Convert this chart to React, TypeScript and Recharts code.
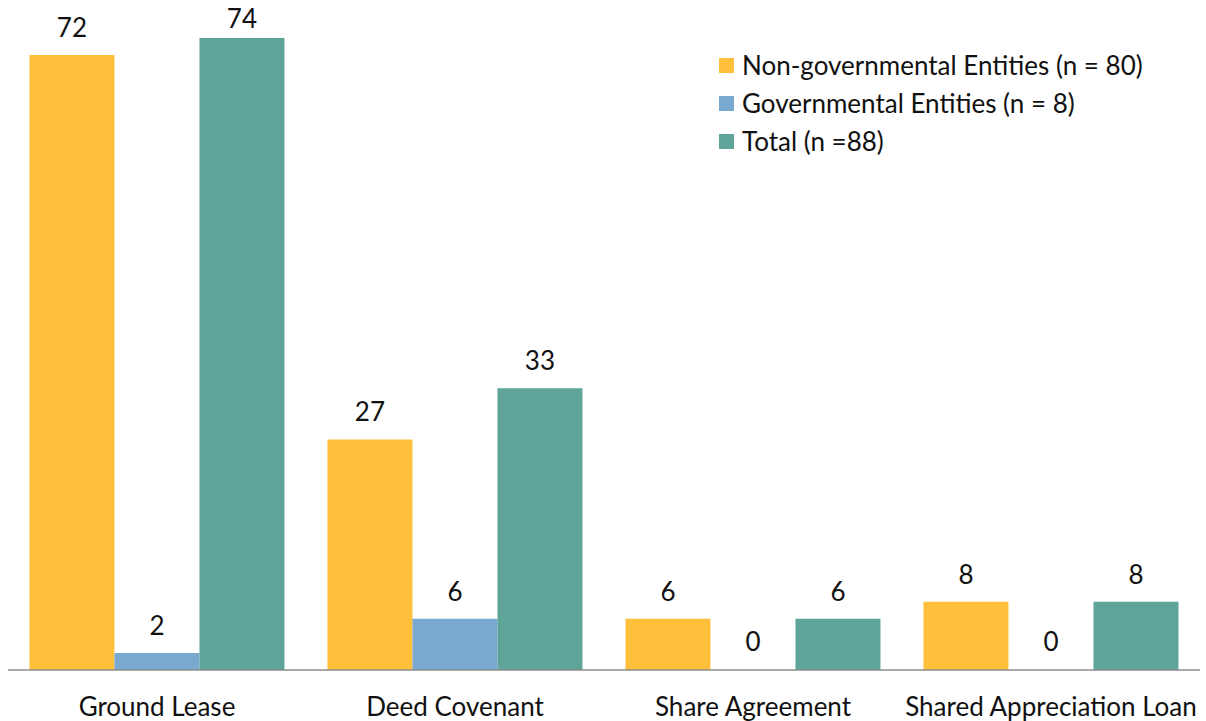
import { Bar, BarChart, Cell, LabelList, XAxis, YAxis } from "recharts";

const categories = ["Ground Lease", "Deed Covenant", "Share Agreement", "Shared Appreciation Loan"];
const nonGov = [72, 27, 6, 8];
const gov = [2, 6, 0, 0];
const total = [74, 33, 6, 8];

const seriesNames = [
  "Non-governmental Entities (n = 80)",
  "Governmental Entities (n = 8)",
  "Total (n =88)",
];
const colors = ["#FEBF3A", "#79A8D0", "#5EA498"];

const data = categories.map((name, i) => ({
  name,
  nonGov: nonGov[i],
  gov: gov[i],
  total: total[i],
}));

const font = "Lato, 'Open Sans', sans-serif";

function LegendBox() {
  return (
    <div
      style={{ position: "absolute", top: 46, left: 719, fontFamily: font, fontSize: 26, color: "#111" }}
    >
      {seriesNames.map((s, i) => (
        <div key={s} style={{ display: "flex", alignItems: "center", height: 38, whiteSpace: "nowrap" }}>
          <span
            style={{ width: 15, height: 15, background: colors[i], marginRight: 8, display: "inline-block" }}
          />
          <span>{s}</span>
        </div>
      ))}
    </div>
  );
}

// value label above a bar; pushed down if it would leave the top edge
function ValueLabel(props: any) {
  const { x, y, width, value } = props;
  const baseline = Math.max(Number(y) - 18, 28);
  return (
    <text
      x={Number(x) + Number(width) / 2}
      y={baseline}
      textAnchor="middle"
      fill="#111"
      fontSize={26}
      fontFamily={font}
    >
      {value}
    </text>
  );
}

const keys = ["nonGov", "gov", "total"] as const;
const seriesValues = [nonGov, gov, total];

export default function App() {
  return (
    <div
      style={{ position: "absolute", left: 0, top: 0, width: 1206, height: 721, background: "#fff", overflow: "visible" }}
    >
      <BarChart
        width={1206}
        height={721}
        data={data}
        margin={{ top: 38, right: 6, left: 8, bottom: 0 }}
        barCategoryGap="7.2%"
        barGap={0}
        style={{ overflow: "visible" }}
      >
        <XAxis
          dataKey="name"
          height={51}
          tickLine={false}
          axisLine={{ stroke: "#8c8c8c", strokeWidth: 1.5 }}
          tick={{ fill: "#111", fontSize: 26, fontFamily: font }}
          tickMargin={22}
          interval={0}
        />
        <YAxis hide domain={[0, 74]} />
        {keys.map((k, si) => (
          <Bar key={k} dataKey={k} fill={colors[si]} minPointSize={1} isAnimationActive={false}>
            {seriesValues[si].map((v, i) => (
              <Cell key={i} fill={v === 0 ? "transparent" : colors[si]} />
            ))}
            <LabelList dataKey={k} content={<ValueLabel />} />
          </Bar>
        ))}
      </BarChart>
      <LegendBox />
    </div>
  );
}
